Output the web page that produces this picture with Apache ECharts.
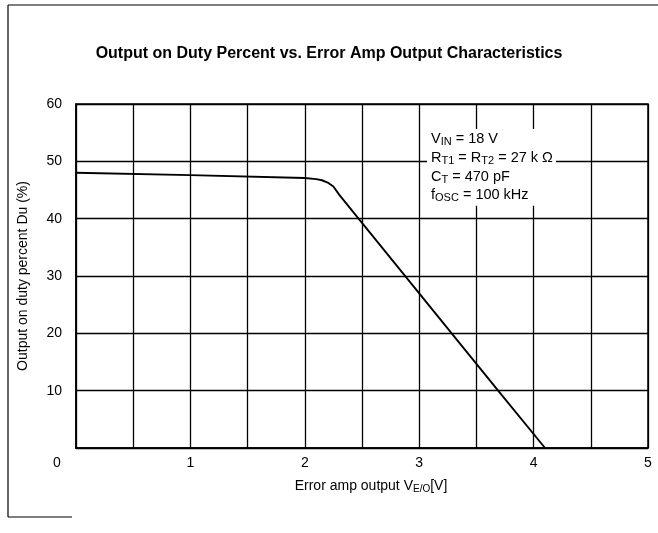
<!DOCTYPE html>
<html lang="en">
<head>
    <meta charset="UTF-8">
    <title>Output on Duty Percent vs. Error Amp Output</title>
    <script src="https://cdn.jsdelivr.net/npm/echarts@6/dist/echarts.min.js"></script>
    <style>
        body, html { margin: 0; padding: 0; background: #fff; }
        #chart { width: 658px; height: 533px; }
    </style>
</head>
<body>
<div id="chart"></div>
<script>
    // curve
    const errAmpV = [0, 1, 2, 2.1, 2.15, 2.2, 2.25, 2.3, 2.47, 3.69, 4.1];
    const dutyPct = [48, 47.6, 47.1, 46.9, 46.7, 46.3, 45.6, 44.2, 40, 10, 0];

    const xTicks = [0, 1, 2, 3, 4, 5];
    const yTicks = [10, 20, 30, 40, 50, 60];

    const font = 'Liberation Sans, Arial, sans-serif';
    const chart = echarts.init(document.getElementById('chart'));

    const option = {
        backgroundColor: '#fff',
        animation: false,
        title: {
            text: 'Output on Duty Percent vs. Error Amp Output Characteristics',
            left: 'center',
            top: 41,
            textStyle: { fontFamily: font, fontSize: 16, fontWeight: 'bold', color: '#000' }
        },
        grid: {
            left: 76, right: 10, top: 104, bottom: 85,
            show: true, borderColor: '#000', borderWidth: 1.5
        },
        xAxis: {
            type: 'value',
            min: 0, max: 5, interval: 0.5,
            name: 'Error amp output V{s|E/O}[V]',
            nameLocation: 'middle',
            nameGap: 30,
            nameTextStyle: {
                fontFamily: font, fontSize: 14, color: '#000', padding: [0, 0, 0, 18],
                rich: { s: { fontFamily: font, fontSize: 10, color: '#000', padding: [6, 0, 0, 0] } }
            },
            axisLine: { show: true, lineStyle: { color: '#000', width: 1.5 } },
            axisTick: { show: false },
            axisLabel: {
                margin: 8,
                fontFamily: font, fontSize: 14, color: '#000',
                formatter: function (v) {
                    if (!xTicks.includes(v)) return '';
                    return v === 0 ? '{o|0}' : String(v);
                },
                rich: { o: { fontFamily: font, fontSize: 14, color: '#000', padding: [0, 38, 0, 0] } }
            },
            splitLine: { show: true, lineStyle: { color: '#000', width: 1.3 } }
        },
        yAxis: {
            type: 'value',
            min: 0, max: 60, interval: 10,
            name: 'Output on duty percent Du (%)',
            nameLocation: 'middle',
            nameGap: 46,
            nameTextStyle: { fontFamily: font, fontSize: 14, color: '#000' },
            axisLine: { show: true, lineStyle: { color: '#000', width: 1.5 } },
            axisTick: { show: false },
            axisLabel: {
                margin: 14,
                fontFamily: font, fontSize: 14, color: '#000',
                formatter: function (v) { return yTicks.includes(v) ? String(v) : ''; }
            },
            splitLine: { show: true, lineStyle: { color: '#000', width: 1.3 } }
        },
        series: [{
            type: 'line',
            data: errAmpV.map((x, i) => [x, dutyPct[i]]),
            showSymbol: false,
            smooth: false,
            lineStyle: { color: '#000', width: 1.9 },
            z: 3
        }],
        graphic: [
            {
                type: 'text',
                left: 427, top: 129,
                z: 10,
                style: {
                    text: 'V{s|IN} = 18 V\nR{s|T1} = R{s|T2} = 27 k \u03A9\nC{s|T} = 470 pF\nf{s|OSC} = 100 kHz',
                    fontFamily: font, fontSize: 14.5, fill: '#000',
                    lineHeight: 18.7,
                    backgroundColor: '#fff',
                    padding: [1, 3, 1, 4],
                    rich: {
                        s: { fontFamily: font, fontSize: 11, fill: '#000', padding: [6, 0, 0, 0] }
                    }
                }
            },
            { type: 'line', shape: { x1: 8, y1: 5, x2: 658, y2: 5 }, style: { stroke: '#000', lineWidth: 1.2 } },
            { type: 'line', shape: { x1: 8, y1: 5, x2: 8, y2: 517 }, style: { stroke: '#000', lineWidth: 1.2 } },
            { type: 'line', shape: { x1: 8, y1: 517, x2: 72, y2: 517 }, style: { stroke: '#000', lineWidth: 1.2 } }
        ]
    };

    chart.setOption(option);
</script>
</body>
</html>
